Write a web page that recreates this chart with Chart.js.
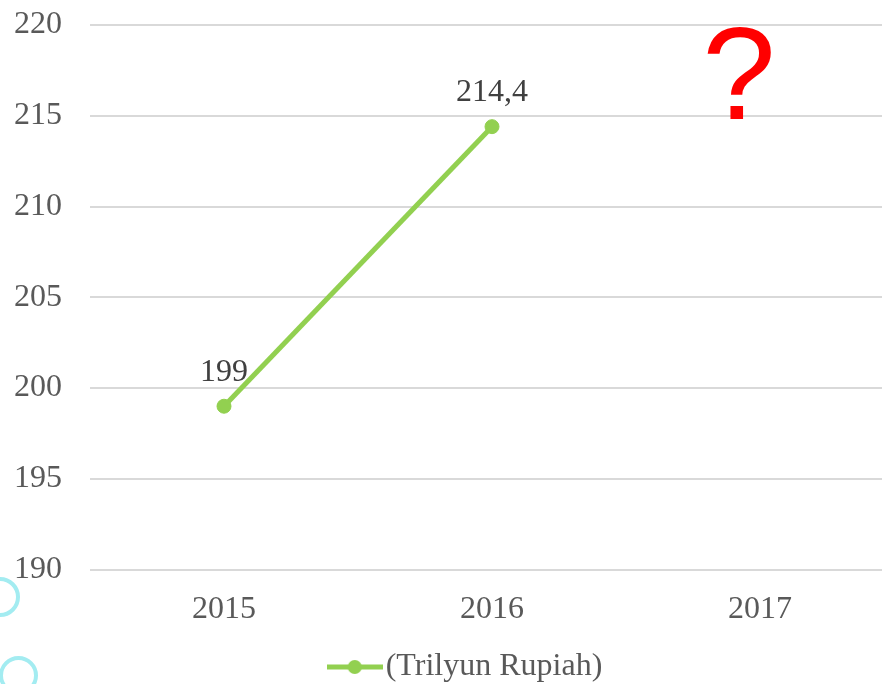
<!DOCTYPE html>
<html>
<head>
<meta charset="utf-8">
<script src="https://cdn.jsdelivr.net/npm/chart.js@4.4.1/dist/chart.umd.min.js"></script>
<style>
  html, body { margin: 0; padding: 0; background: #fff; overflow: hidden; }
  #wrap { position: relative; width: 928px; height: 684px; }
  .ring { position: absolute; border: 4px solid #a3ecf1; border-radius: 50%; box-sizing: border-box; }
</style>
</head>
<body>
<div id="wrap">
  <canvas id="chart" width="928" height="684"></canvas>
  <div class="ring" style="left:-20px; top:577px; width:40px; height:40px;"></div>
  <div class="ring" style="left:-1px; top:656px; width:39px; height:39px;"></div>
</div>
<script>
// Chart data
const years = ['2015', '2016', '2017'];
const values = [199, 214.4, null];
const valueLabels = ['199', '214,4', ''];
const seriesName = '(Trilyun Rupiah)';

const GREEN = '#92d050';
const SERIF = "'Liberation Serif', 'Times New Roman', serif";

// legend marker: short line with a dot in the middle
function makeLegendMarker() {
  const c = document.createElement('canvas');
  c.width = 56;
  c.height = 16;
  const g = c.getContext('2d');
  g.strokeStyle = GREEN;
  g.lineWidth = 5;
  g.beginPath();
  g.moveTo(0, 8);
  g.lineTo(56, 8);
  g.stroke();
  g.fillStyle = GREEN;
  g.beginPath();
  g.arc(28, 8, 7, 0, Math.PI * 2);
  g.fill();
  return c;
}

// value labels above each point
const pointLabels = {
  id: 'pointLabels',
  afterDatasetsDraw(chart) {
    const ctx = chart.ctx;
    const meta = chart.getDatasetMeta(0);
    ctx.save();
    ctx.font = '32px ' + SERIF;
    ctx.fillStyle = '#404040';
    ctx.textAlign = 'center';
    ctx.textBaseline = 'middle';
    meta.data.forEach((pt, i) => {
      if (values[i] == null) return;
      ctx.fillText(valueLabels[i], pt.x, pt.y - 34);
    });
    ctx.restore();
  }
};

// big red question mark over the unknown year
const questionMark = {
  id: 'questionMark',
  afterDraw(chart) {
    const ctx = chart.ctx;
    const x = chart.scales.x.getPixelForValue(2) - 21;
    ctx.save();
    ctx.font = "132px 'Liberation Sans', Arial, sans-serif";
    ctx.fillStyle = '#ff0000';
    ctx.textAlign = 'center';
    ctx.textBaseline = 'alphabetic';
    ctx.fillText('?', x, chart.chartArea.top + 94);
    ctx.restore();
  }
};

// nudge the legend so it sits centred under the visible part of the chart
const legendShift = {
  id: 'legendShift',
  afterLayout(chart) {
    const lg = chart.legend;
    if (!lg) return;
    lg.left += 24;
    lg.right += 24;
    lg.top += 9;
    lg.bottom += 9;
  }
};

new Chart(document.getElementById('chart'), {
  type: 'line',
  data: {
    labels: years,
    datasets: [{
      label: seriesName,
      data: values,
      borderColor: GREEN,
      backgroundColor: GREEN,
      borderWidth: 5,
      pointRadius: 7,
      pointBorderWidth: 1,
      pointBackgroundColor: GREEN,
      pointBorderColor: GREEN,
      tension: 0
    }]
  },
  options: {
    responsive: false,
    animation: false,
    layout: { padding: { left: 0, right: 34, top: 25, bottom: 0 } },
    scales: {
      x: {
        offset: true,
        afterFit(scale) { scale.height -= 10; },
        grid: { display: false, drawTicks: false },
        border: { display: false },
        ticks: { color: '#595959', font: { family: SERIF, size: 32 }, padding: 21 }
      },
      y: {
        min: 190,
        max: 220,
        afterFit(scale) {
          scale.width = 90;
          scale.paddingTop = 0;
          scale.paddingBottom = 0;
        },
        grid: { color: '#d9d9d9', lineWidth: 2, drawTicks: false },
        border: { display: false },
        ticks: { stepSize: 5, color: '#595959', font: { family: SERIF, size: 32 }, padding: 28 }
      }
    },
    plugins: {
      tooltip: { enabled: false },
      legend: {
        position: 'bottom',
        labels: {
          usePointStyle: true,
          pointStyle: makeLegendMarker(),
          pointStyleWidth: 30,
          color: '#595959',
          font: { family: SERIF, size: 32 },
          padding: 2
        }
      }
    }
  },
  plugins: [pointLabels, questionMark, legendShift]
});
</script>
</body>
</html>
